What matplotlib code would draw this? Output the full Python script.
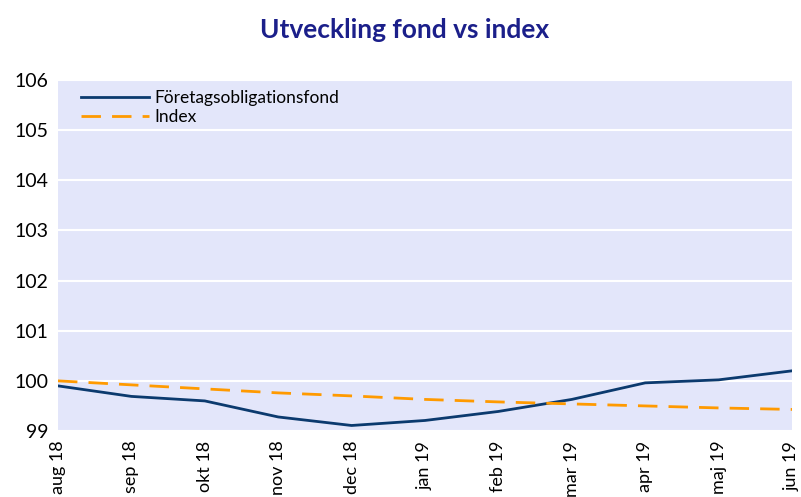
import numpy as np
import matplotlib
matplotlib.use("Agg")
import matplotlib.pyplot as plt

# monthly index values, base 100 in aug 18
months = ["aug 18", "sep 18", "okt 18", "nov 18", "dec 18", "jan 19",
          "feb 19", "mar 19", "apr 19", "maj 19", "jun 19"]
fund = [99.90, 99.69, 99.60, 99.28, 99.11, 99.21, 99.39, 99.63, 99.96, 100.02, 100.20]
index = [100.00, 99.92, 99.84, 99.76, 99.70, 99.63, 99.58, 99.54, 99.50, 99.46, 99.43]
yticks = [99, 100, 101, 102, 103, 104, 105, 106]

plt.rcParams['font.family'] = ['Lato', 'DejaVu Sans']

fig = plt.figure(figsize=(8.01, 4.97), dpi=100)
ax = fig.add_axes([0.0724, 0.1328, 0.9164, 0.7062])
ax.set_facecolor('#E3E6FA')

x = np.arange(len(months))
ax.plot(x, fund, color='#0B3A6E', lw=2, label='Företagsobligationsfond', zorder=3)
ax.plot(x, index, color='#FF9A00', lw=2, dashes=(7, 4), label='Index', zorder=3)

ax.set_xlim(0, len(months) - 1)
ax.set_ylim(99, 106)
ax.set_yticks(yticks)
ax.set_xticks(x)
ax.set_xticklabels(months, rotation=90, fontsize=13)
ax.tick_params(axis='y', labelsize=14)
ax.tick_params(length=0, pad=7)
ax.grid(axis='y', color='white', lw=1.5)
ax.set_axisbelow(True)
for s in ax.spines.values():
    s.set_visible(False)

leg = ax.legend(loc='upper left', frameon=False, fontsize=12.5, handlelength=3.9,
                handletextpad=0.35, labelspacing=0.15, borderaxespad=0.2,
                bbox_to_anchor=(0.017, 1.0))

fig.text(0.505, 0.94, 'Utveckling fond vs index', ha='center', va='center',
         fontsize=19, fontweight='bold', color='#1B1F8A')

fig.savefig('out.png', dpi=100)
